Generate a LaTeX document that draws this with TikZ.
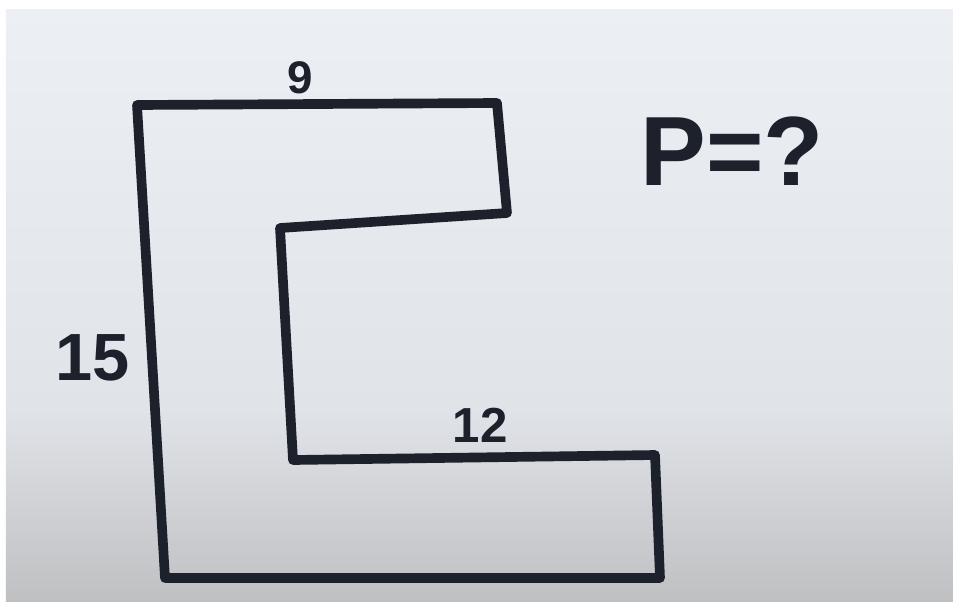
\documentclass[tikz,border=0pt]{standalone}
\usepackage{fontspec}
\setmainfont{Liberation Sans}
\setsansfont{Liberation Sans}
\usepackage{tikz}
\usetikzlibrary{positioning}
\definecolor{ink}{HTML}{1C212C}
\definecolor{boardtop}{HTML}{ECEFF3}
\definecolor{boardmid}{HTML}{E0E3E8}
\definecolor{boardbottom}{HTML}{BFC0C2}
\tikzset{
  every picture/.style={font=\sffamily},
  outline/.style={draw=ink, line width=5.5pt, line join=round, line cap=round},
  measure/.style={text=ink, inner sep=0pt},
}

\begin{document}
\begin{tikzpicture}
  \useasboundingbox (0,0) rectangle (19.06,-12.06);
  \shade[top color=boardtop, bottom color=boardmid] (0.12,-0.18) rectangle (19.06,-8.2);
  \shade[top color=boardmid, bottom color=boardbottom] (0.12,-8.2) rectangle (19.06,-12.02);
  \coordinate (topleft) at (2.74,-2.10);
  \coordinate (topright) at (9.94,-2.06);
  \coordinate (armright) at (10.14,-4.26);
  \coordinate (innertop) at (5.60,-4.56);
  \coordinate (innerbottom) at (5.86,-9.20);
  \coordinate (stepright) at (13.10,-9.10);
  \coordinate (bottomright) at (13.20,-11.56);
  \coordinate (bottomleft) at (3.30,-11.56);
  \draw[outline] (topleft) -- (topright) -- (armright) -- (innertop) -- (innerbottom)
    -- (stepright) -- (bottomright) -- (bottomleft) -- cycle;
  \node[measure, font=\bfseries\fontsize{26}{26}\selectfont] (nine) at (6.0,-1.56) {9};
  \node[measure, font=\bfseries\fontsize{38}{38}\selectfont] (fifteen) at (1.86,-7.16) {15};
  \node[measure, font=\bfseries\fontsize{28}{28}\selectfont] (twelve) at (9.6,-8.5) {12};
  \node[measure, anchor=base west, font=\bfseries\fontsize{56}{56}\selectfont] (perimeter) at (12.8,-3.7) {P=?};
\end{tikzpicture}
\end{document}
